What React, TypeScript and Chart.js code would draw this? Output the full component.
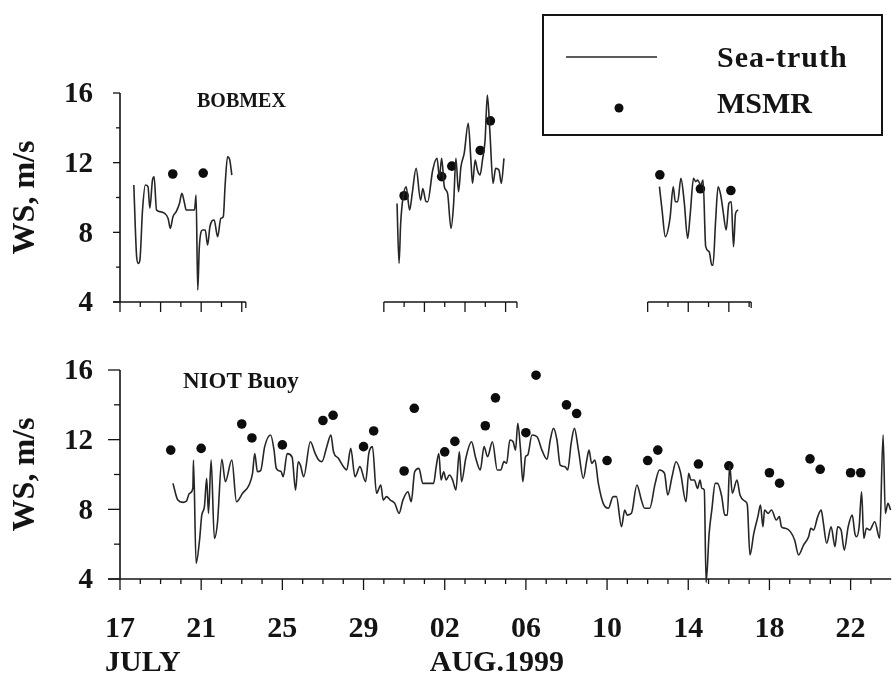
import React, { useEffect, useRef } from 'react';
import { Chart, registerables } from 'chart.js';

Chart.register(...registerables);

// ---------- data ----------
const X_MIN = 17; // 17 July (days counted from 1 July)
const X_MAX = 55;
const Y_MIN = 4;
const Y_MAX = 16;

const yTickValues = [4, 6, 8, 10, 12, 14, 16];
const yLabelValues = [4, 8, 12, 16];
const xTickDays = [17, 21, 25, 29, 33, 37, 41, 45, 49, 53];
const xTickLabels = ['17', '21', '25', '29', '02', '06', '10', '14', '18', '22'];
const monthLabels = ['JULY', 'AUG.1999'];
const monthLabelDays = [17, 33];
const seriesNames = ['Sea-truth', 'MSMR'];
const panelTitles = ['BOBMEX', 'NIOT Buoy'];
const axisTitle = 'WS, m/s';

// NIOT buoy sea-truth
const niotDays = [
  19.61, 19.85, 20.1, 20.26, 20.43, 20.59, 20.62, 20.75, 20.92, 21.03, 21.16, 21.27, 21.36, 21.49, 21.65, 21.8,
  22.02, 22.19, 22.51, 22.74, 23.04, 23.36, 23.53, 23.64, 23.77, 23.93, 24.13, 24.42, 24.59, 24.7, 24.94, 25.04,
  25.24, 25.48, 25.65, 25.78, 25.89, 26.05, 26.38, 26.62, 26.79, 26.95, 27.19, 27.39, 27.52, 27.76, 28.01, 28.17,
  28.37, 28.58, 28.82, 29.1, 29.26, 29.44, 29.64, 29.85, 29.97, 30.13, 30.32, 30.54, 30.75, 30.94, 31.19, 31.35,
  31.52, 31.73, 31.92, 32.25, 32.45, 32.58, 32.71, 32.82, 32.95, 33.07, 33.23, 33.39, 33.55, 33.72, 33.83, 34.04,
  34.32, 34.53, 34.75, 34.94, 35.11, 35.35, 35.59, 35.76, 35.92, 36.05, 36.21, 36.37, 36.49, 36.6, 36.73, 36.85,
  36.98, 37.09, 37.3, 37.55, 37.79, 38.04, 38.2, 38.36, 38.53, 38.69, 38.93, 39.06, 39.23, 39.39, 39.59, 39.83,
  40.0, 40.11, 40.24, 40.4, 40.57, 40.81, 41.06, 41.3, 41.46, 41.71, 41.87, 41.99, 42.2, 42.47, 42.69, 42.85,
  43.1, 43.37, 43.58, 43.83, 43.99, 44.2, 44.4, 44.61, 44.89, 45.02, 45.13, 45.3, 45.46, 45.58, 45.67, 45.79,
  45.88, 46.03, 46.16, 46.33, 46.44, 46.65, 46.8, 46.93, 47.04, 47.17, 47.4, 47.55, 47.83, 47.91, 48.04, 48.23,
  48.43, 48.56, 48.68, 48.76, 48.94, 49.1, 49.34, 49.49, 49.59, 49.78, 50.03, 50.24, 50.44, 50.68, 50.93, 51.04,
  51.17, 51.38, 51.55, 51.66, 51.82, 52.04, 52.23, 52.36, 52.53, 52.69, 52.88, 53.08, 53.21, 53.29, 53.42, 53.54,
  53.65, 53.78, 53.94, 54.19, 54.43, 54.6, 54.71, 54.84, 54.97,
];
const niotWS = [
  9.49, 8.53, 8.4, 8.45, 8.92, 9.2, 10.83, 4.9, 6.24, 7.67, 8.15, 9.78, 7.77, 10.83, 6.33, 7.2,
  10.87, 9.59, 10.83, 8.44, 8.92, 9.4, 10.07, 11.2, 10.16, 10.22, 11.6, 12.27, 11.4, 10.35, 10.16, 9.87,
  11.2, 11.0, 9.1, 10.73, 10.54, 9.87, 11.88, 11.2, 10.83, 10.74, 11.6, 12.27, 11.31, 10.93, 10.45, 10.26,
  11.5, 9.87, 10.45, 9.59, 11.21, 11.6, 8.92, 9.4, 8.53, 8.73, 8.53, 8.34, 7.77, 8.53, 9.01, 8.44,
  10.16, 10.35, 9.49, 9.49, 9.49, 10.45, 11.21, 9.68, 10.16, 9.68, 9.97, 9.68, 9.11, 11.31, 9.59, 10.93,
  11.88, 10.93, 10.26, 11.6, 11.02, 11.88, 10.26, 10.26, 10.74, 10.64, 11.98, 11.88, 11.4, 12.94, 11.5, 9.59,
  11.02, 11.12, 12.27, 12.17, 11.4, 10.87, 11.98, 12.65, 11.98, 10.54, 10.45, 10.26, 11.79, 12.65, 11.4, 9.78,
  10.83, 11.4, 10.64, 10.83, 9.49, 8.34, 8.06, 8.73, 8.73, 7.0, 7.96, 7.67, 7.77, 9.4, 8.53, 8.06,
  8.06, 9.49, 10.26, 10.07, 8.82, 9.87, 10.73, 10.16, 8.44, 10.07, 9.68, 9.68, 9.2, 9.68, 9.2, 9.11,
  3.8, 6.62, 7.96, 9.49, 9.49, 8.73, 7.67, 7.67, 10.54, 8.92, 9.68, 8.82, 8.44, 8.25, 5.38, 6.62,
  7.58, 8.25, 7.0, 7.96, 7.77, 7.96, 7.39, 7.58, 7.0, 6.91, 6.72, 6.24, 5.38, 5.95, 6.43, 6.91,
  6.81, 7.58, 7.96, 7.2, 6.05, 7.0, 5.86, 7.0, 6.81, 5.66, 7.0, 7.67, 6.62, 6.43, 7.0, 9.01,
  6.34, 6.91, 6.81, 7.29, 6.34, 12.27, 7.77, 8.34, 7.96,
];

// NIOT buoy MSMR
const niotMsmrDays = [
  19.5, 21.0, 23.0, 23.5, 25.0, 27.0, 27.5, 29.0, 29.5, 31.0, 31.5, 33.0, 33.5, 35.0, 35.5,
  37.0, 37.5, 39.0, 39.5, 41.0, 43.0, 43.5, 45.5, 47.0, 49.0, 49.5, 51.0, 51.5, 53.0, 53.5,
];
const niotMsmrWS = [
  11.4, 11.5, 12.9, 12.1, 11.7, 13.1, 13.4, 11.6, 12.5, 10.2, 13.8, 11.3, 11.9, 12.8, 14.4,
  12.4, 15.7, 14.0, 13.5, 10.8, 10.8, 11.4, 10.6, 10.5, 10.1, 9.5, 10.9, 10.3, 10.1, 10.1,
];

// BOBMEX sea-truth, three cruise legs
const bobLeg1Days = [
  17.68, 17.82, 17.9, 17.98, 18.11, 18.25, 18.38, 18.47, 18.6, 18.68, 18.8, 18.96, 19.2, 19.37, 19.48, 19.61,
  19.77, 19.93, 20.05, 20.18, 20.26, 20.67, 20.75, 20.83, 20.91, 21.07, 21.2, 21.32, 21.43, 21.64, 21.81, 21.97,
  22.09, 22.18, 22.3, 22.41, 22.51,
];
const bobLeg1WS = [
  10.72, 6.6, 6.22, 6.41, 9.28, 10.72, 10.62, 9.38, 11.0, 11.19, 9.28, 9.19, 9.09, 8.8, 8.23, 8.9,
  9.19, 9.66, 10.24, 9.66, 9.28, 9.28, 10.14, 4.69, 7.18, 8.13, 8.13, 7.27, 8.32, 8.71, 7.75, 8.8,
  8.9, 10.72, 12.34, 12.15, 11.29,
];
const bobLeg2Days = [
  30.65, 30.75, 30.83, 30.94, 31.1, 31.27, 31.4, 31.59, 31.81, 31.92, 32.08, 32.16, 32.41, 32.62, 32.74, 32.85,
  32.98, 33.14, 33.31, 33.44, 33.55, 33.68, 33.8, 33.96, 34.16, 34.29, 34.37, 34.5, 34.61, 34.74, 34.86, 34.99,
  35.1, 35.23, 35.38, 35.51, 35.67, 35.79, 35.92,
];
const bobLeg2WS = [
  9.66, 6.22, 8.52, 9.95, 10.62, 9.28, 10.24, 11.67, 9.85, 10.52, 9.76, 9.76, 11.58, 12.25, 11.19, 12.25,
  10.62, 10.24, 8.23, 9.66, 12.25, 10.33, 11.77, 12.53, 14.26, 12.15, 10.81, 12.15, 11.58, 11.29, 12.15, 13.3,
  15.88, 13.68, 10.81, 11.67, 11.58, 10.81, 12.25,
];
const bobLeg3Days = [
  43.58, 43.71, 43.87, 44.1, 44.26, 44.36, 44.48, 44.64, 44.8, 44.97, 45.1, 45.26, 45.37, 45.46, 45.62, 45.73,
  45.86, 46.03, 46.16, 46.22, 46.35, 46.47, 46.6, 46.71, 46.87, 47.0, 47.12, 47.23, 47.33, 47.46,
];
const bobLeg3WS = [
  10.62, 9.28, 7.75, 8.8, 10.62, 9.76, 9.76, 11.1, 9.76, 7.65, 9.09, 11.1, 10.91, 11.0, 10.72, 11.0,
  7.18, 6.89, 6.12, 6.12, 8.71, 10.62, 10.14, 9.28, 8.13, 9.66, 9.76, 7.18, 9.09, 9.28,
];

// BOBMEX MSMR
const bobMsmrDays = [19.6, 21.1, 31.0, 32.85, 33.35, 34.75, 35.25, 43.6, 45.6, 47.1];
const bobMsmrWS = [11.35, 11.4, 10.1, 11.2, 11.8, 12.7, 14.4, 11.3, 10.5, 10.4];

// broken x-axis pieces of the BOBMEX panel (start day, end day)
const bobAxisStarts = [16.66, 30, 43];
const bobAxisEnds = [23.2, 36.56, 48.1];

// ---------- styling ----------
const FONT = '"Liberation Serif", "Times New Roman", serif';
const INK = '#141414';
const LINE = '#262626';

const toPts = (xs: number[], ys: number[]) => xs.map((x, i) => ({ x, y: ys[i] }));

const lineDs = (xs: number[], ys: number[]) => ({
  type: 'line' as const,
  data: toPts(xs, ys),
  borderColor: LINE,
  borderWidth: 1.6,
  pointRadius: 0,
  cubicInterpolationMode: 'monotone' as const,
  clip: false as any,
});

const dotDs = (xs: number[], ys: number[]) => ({
  type: 'scatter' as const,
  data: toPts(xs, ys),
  showLine: false,
  pointRadius: 4.8,
  pointBackgroundColor: '#0d0d0d',
  pointBorderColor: '#0d0d0d',
  pointBorderWidth: 0,
  clip: false as any,
});

function drawYAxis(chart: any, majorLen: number, minorLen: number) {
  const ctx = chart.ctx;
  const xs = chart.scales.x;
  const ys = chart.scales.y;
  const x0 = xs.getPixelForValue(X_MIN);
  ctx.save();
  ctx.strokeStyle = INK;
  ctx.lineWidth = 1.6;
  ctx.beginPath();
  ctx.moveTo(x0, ys.getPixelForValue(Y_MIN));
  ctx.lineTo(x0, ys.getPixelForValue(Y_MAX));
  ctx.stroke();
  ctx.lineWidth = 1.3;
  for (const v of yTickValues) {
    const y = ys.getPixelForValue(v);
    const len = yLabelValues.includes(v) ? majorLen : minorLen;
    ctx.beginPath();
    ctx.moveTo(x0 - len, y);
    ctx.lineTo(x0, y);
    ctx.stroke();
  }
  ctx.fillStyle = INK;
  ctx.font = `bold 29px ${FONT}`;
  ctx.textAlign = 'right';
  ctx.textBaseline = 'middle';
  for (const v of yLabelValues) {
    ctx.fillText(String(v), x0 - 27, ys.getPixelForValue(v) + 2);
  }
  // axis title
  const yc = (ys.getPixelForValue(Y_MIN) + ys.getPixelForValue(Y_MAX)) / 2;
  ctx.translate(34, yc);
  ctx.rotate(-Math.PI / 2);
  ctx.textAlign = 'center';
  ctx.textBaseline = 'alphabetic';
  ctx.font = `bold 32px ${FONT}`;
  ctx.fillText(axisTitle, 0, 0);
  ctx.restore();
}

const topPlugin = {
  id: 'topDecor',
  beforeDatasetsDraw(chart: any) {
    const ctx = chart.ctx;
    const xs = chart.scales.x;
    const ys = chart.scales.y;
    drawYAxis(chart, 7, 4);
    const yb = ys.getPixelForValue(Y_MIN);
    ctx.save();
    ctx.strokeStyle = INK;
    for (let s = 0; s < bobAxisStarts.length; s++) {
      const a = bobAxisStarts[s];
      const b = bobAxisEnds[s];
      ctx.lineWidth = 1.6;
      ctx.beginPath();
      ctx.moveTo(xs.getPixelForValue(a), yb);
      ctx.lineTo(xs.getPixelForValue(b), yb);
      ctx.stroke();
      ctx.lineWidth = 1.3;
      const first = Math.ceil(a);
      for (let d = first; d <= b + 0.001; d++) {
        const x = xs.getPixelForValue(d);
        const len = (d - first) % 2 === 0 ? 10 : 5;
        ctx.beginPath();
        ctx.moveTo(x, yb);
        ctx.lineTo(x, yb + len);
        ctx.stroke();
      }
      if (b - Math.floor(b) > 0.05) {
        const x = xs.getPixelForValue(b);
        ctx.beginPath();
        ctx.moveTo(x, yb);
        ctx.lineTo(x, yb + 6);
        ctx.stroke();
      }
    }
    // panel title
    ctx.fillStyle = INK;
    ctx.font = `bold 20px ${FONT}`;
    ctx.textAlign = 'left';
    ctx.textBaseline = 'alphabetic';
    ctx.fillText(panelTitles[0], 197, 107);

    // legend
    ctx.lineWidth = 2;
    ctx.strokeRect(543, 15, 339, 120);
    ctx.lineWidth = 1.4;
    ctx.strokeStyle = LINE;
    ctx.beginPath();
    ctx.moveTo(566, 57);
    ctx.lineTo(657, 57);
    ctx.stroke();
    ctx.fillStyle = '#0d0d0d';
    ctx.beginPath();
    ctx.arc(619, 108, 4.5, 0, Math.PI * 2);
    ctx.fill();
    ctx.fillStyle = INK;
    ctx.font = `bold 30px ${FONT}`;
    (ctx as any).letterSpacing = '1px';
    ctx.fillText(seriesNames[0], 717, 67);
    (ctx as any).letterSpacing = '0px';
    ctx.fillText(seriesNames[1], 717, 113);
    ctx.restore();
  },
};

const bottomPlugin = {
  id: 'bottomDecor',
  beforeDatasetsDraw(chart: any) {
    const ctx = chart.ctx;
    const xs = chart.scales.x;
    const ys = chart.scales.y;
    drawYAxis(chart, 12, 6);
    const yb = ys.getPixelForValue(Y_MIN);
    ctx.save();
    ctx.strokeStyle = INK;
    ctx.lineWidth = 1.6;
    ctx.beginPath();
    ctx.moveTo(xs.getPixelForValue(X_MIN) - 12, yb);
    ctx.lineTo(xs.getPixelForValue(X_MAX), yb);
    ctx.stroke();
    ctx.lineWidth = 1.3;
    for (let d = X_MIN; d < X_MAX; d++) {
      const x = xs.getPixelForValue(d);
      const len = xTickDays.includes(d) ? 11 : 5;
      ctx.beginPath();
      ctx.moveTo(x, yb);
      ctx.lineTo(x, yb + len);
      ctx.stroke();
    }
    ctx.fillStyle = INK;
    ctx.font = `bold 30px ${FONT}`;
    ctx.textAlign = 'center';
    ctx.textBaseline = 'alphabetic';
    xTickDays.forEach((d, i) => {
      ctx.fillText(xTickLabels[i], xs.getPixelForValue(d), 637);
    });
    ctx.textAlign = 'left';
    monthLabels.forEach((m, i) => {
      const lbl = xTickLabels[xTickDays.indexOf(monthLabelDays[i])];
      const left = xs.getPixelForValue(monthLabelDays[i]) - ctx.measureText(lbl).width / 2;
      ctx.fillText(m, left, 671);
    });
    ctx.font = `bold 23px ${FONT}`;
    ctx.fillText(panelTitles[1], 183, 388);
    ctx.restore();
  },
};

const baseOptions = (padding: any) => ({
  animation: false as const,
  responsive: false,
  events: [] as any[],
  layout: { padding },
  scales: {
    x: { type: 'linear' as const, min: X_MIN, max: X_MAX, display: false },
    y: { type: 'linear' as const, min: Y_MIN, max: Y_MAX, display: false },
  },
  plugins: { legend: { display: false }, tooltip: { enabled: false } },
});

export default function App() {
  const topRef = useRef<HTMLCanvasElement>(null);
  const botRef = useRef<HTMLCanvasElement>(null);

  useEffect(() => {
    const top = new Chart(topRef.current as HTMLCanvasElement, {
      type: 'line',
      data: {
        datasets: [
          lineDs(bobLeg1Days, bobLeg1WS),
          lineDs(bobLeg2Days, bobLeg2WS),
          lineDs(bobLeg3Days, bobLeg3WS),
          dotDs(bobMsmrDays, bobMsmrWS),
        ] as any,
      },
      options: baseOptions({ left: 120, right: 0, top: 93, bottom: 675 - 302 }) as any,
      plugins: [topPlugin],
    });
    const bot = new Chart(botRef.current as HTMLCanvasElement, {
      type: 'line',
      data: {
        datasets: [lineDs(niotDays, niotWS), dotDs(niotMsmrDays, niotMsmrWS)] as any,
      },
      options: baseOptions({ left: 120, right: 0, top: 370, bottom: 675 - 579 }) as any,
      plugins: [bottomPlugin],
    });
    return () => {
      top.destroy();
      bot.destroy();
    };
  }, []);

  const cv: React.CSSProperties = { position: 'absolute', left: 0, top: 0, width: 896, height: 675 };
  return (
    <div style={{ position: 'absolute', left: 0, top: 0, width: 896, height: 675, background: '#ffffff', overflow: 'hidden' }}>
      <canvas ref={botRef} width={896} height={675} style={cv} />
      <canvas ref={topRef} width={896} height={675} style={cv} />
    </div>
  );
}
